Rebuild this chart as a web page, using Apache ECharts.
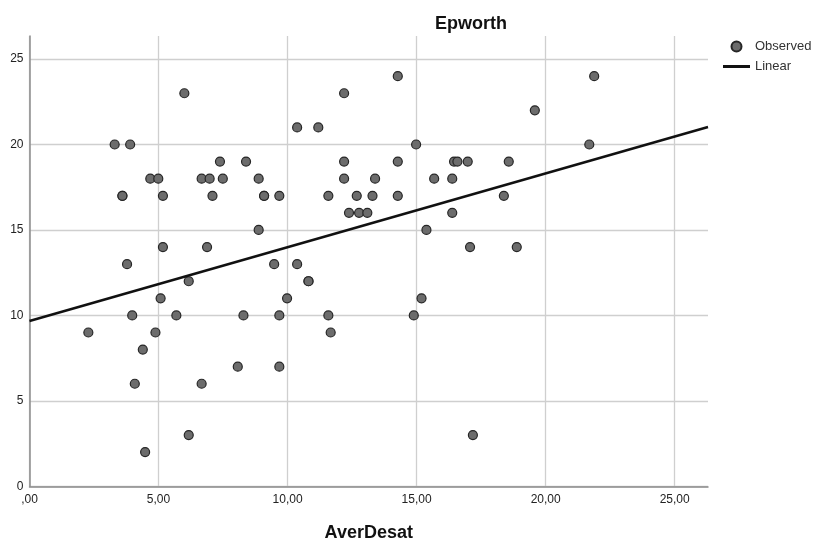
<!DOCTYPE html>
<html>
<head>
<meta charset="utf-8">
<script src="https://cdn.jsdelivr.net/npm/echarts@6/dist/echarts.min.js"></script>
<style>
  html, body { margin: 0; padding: 0; background: #fff; }
  #chart { width: 815px; height: 540px; }
</style>
</head>
<body>
<div id="chart"></div>
<script>
// observed points: [AverDesat, Epworth]
const observed = [
    [6.0, 23], [3.3, 20], [3.9, 20], [4.68, 18], [4.99, 18], [6.67, 18], [6.98, 18],
    [7.38, 19], [7.49, 18], [8.39, 19], [8.88, 18], [3.6, 17], [3.6, 17], [5.17, 17],
    [7.09, 17], [9.09, 17], [9.09, 17], [9.68, 17], [8.88, 15], [5.17, 14], [6.88, 14],
    [3.78, 13], [9.48, 13], [10.37, 13], [10.37, 21], [14.27, 24], [12.19, 23],
    [11.19, 21], [19.58, 22], [14.98, 20], [12.19, 19], [14.27, 19], [16.45, 19],
    [16.58, 19], [16.98, 19], [18.57, 19], [12.19, 18], [13.39, 18], [15.68, 18],
    [16.38, 18], [11.58, 17], [12.68, 17], [13.29, 17], [14.27, 17], [18.38, 17],
    [12.38, 16], [12.77, 16], [13.09, 16], [16.38, 16], [15.38, 15], [17.07, 14],
    [18.88, 14], [10.81, 12], [10.81, 12], [21.88, 24], [21.69, 20], [6.17, 12],
    [5.08, 11], [9.98, 11], [3.98, 10], [5.69, 10], [8.29, 10], [9.68, 10], [2.28, 9],
    [4.88, 9], [4.39, 8], [8.07, 7], [9.68, 7], [4.08, 6], [6.67, 6], [6.17, 3],
    [4.48, 2], [11.58, 10], [14.89, 10], [15.19, 11], [11.67, 9], [17.18, 3]
];

// fitted line
const fitIntercept = 9.67;
const fitSlope = 0.432;

const xMin = 0, xMax = 26.29;
const yMin = 0, yMax = 26.35;

const fitLine = [
    [xMin, fitIntercept + fitSlope * xMin],
    [xMax, fitIntercept + fitSlope * xMax]
];

const font = 'Arial, "Liberation Sans", sans-serif';

const fmtX = v => {
    if (Math.abs(v % 5) > 1e-6) return '';
    const s = v.toFixed(2).replace('.', ',');
    return s.startsWith('0') ? s.slice(1) : s;
};
const fmtY = v => (Math.abs(v % 5) > 1e-6 ? '' : String(v));

const chart = echarts.init(document.getElementById('chart'));
chart.setOption({
    animation: false,
    backgroundColor: '#fff',
    title: {
        text: 'Epworth',
        left: 430,
        top: 10,
        textStyle: { fontFamily: font, fontSize: 18, fontWeight: 'bold', color: '#111' }
    },
    legend: {
        orient: 'vertical',
        left: 723,
        top: 40,
        padding: 0,
        itemWidth: 27,
        itemHeight: 10,
        itemGap: 7,
        textStyle: { fontFamily: font, fontSize: 13, color: '#333' },
        data: [
            { name: 'Observed', icon: 'circle' },
            { name: 'Linear', icon: 'path://M0,0 L27,0 L27,3 L0,3 Z' }
        ]
    },
    grid: { left: 29.5, right: 107, top: 36, bottom: 53.7, outerBoundsMode: 'none', containLabel: false },
    xAxis: {
        type: 'value',
        min: xMin,
        max: xMax,
        interval: 5,
        name: 'AverDesat',
        nameLocation: 'middle',
        nameGap: 38,
        nameTextStyle: { fontFamily: font, fontSize: 18, fontWeight: 'bold', color: '#111' },
        axisLine: { show: true, onZero: false, lineStyle: { color: '#8c8c8c', width: 1.5 } },
        axisTick: { show: false },
        axisLabel: { formatter: fmtX, margin: 7, fontFamily: font, fontSize: 12, color: '#222' },
        splitLine: { show: true, showMaxLine: false, lineStyle: { color: '#cfcfcf', width: 1.3 } }
    },
    yAxis: {
        type: 'value',
        min: yMin,
        max: yMax,
        interval: 5,
        axisLine: { show: true, onZero: false, lineStyle: { color: '#8c8c8c', width: 1.5 } },
        axisTick: { show: false },
        axisLabel: { formatter: fmtY, margin: 6, fontFamily: font, fontSize: 12, color: '#222' },
        splitLine: { show: true, showMaxLine: false, lineStyle: { color: '#cfcfcf', width: 1.3 } }
    },
    series: [
        {
            name: 'Observed',
            type: 'scatter',
            data: observed,
            symbol: 'circle',
            symbolSize: 9,
            itemStyle: { color: '#6c6c6c', borderColor: '#262626', borderWidth: 1.2, opacity: 1 },
            z: 3
        },
        {
            name: 'Linear',
            type: 'line',
            data: fitLine,
            showSymbol: false,
            symbol: 'none',
            lineStyle: { color: '#111', width: 2.5 },
            itemStyle: { color: '#111' },
            z: 4
        }
    ]
});
</script>
</body>
</html>
